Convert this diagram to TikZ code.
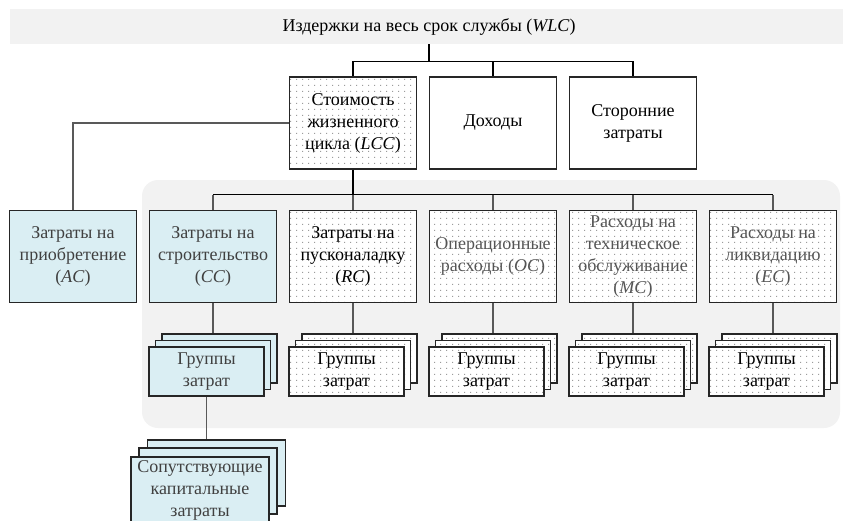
\documentclass[tikz,border=0pt]{standalone}
\usepackage{fontspec}
\setmainfont{Liberation Serif}
\usetikzlibrary{patterns}
\pgfdeclarepatternformonly{mydots}{\pgfqpoint{0pt}{0pt}}{\pgfqpoint{6pt}{6pt}}{\pgfqpoint{6pt}{6pt}}{\pgfpathrectangle{\pgfqpoint{2.5pt}{2.5pt}}{\pgfqpoint{1.2pt}{1.2pt}}\pgfusepath{fill}}
\definecolor{lblue}{HTML}{DAEEF3}
\definecolor{regc}{HTML}{F2F2F2}
\definecolor{bordc}{HTML}{262626}
\definecolor{tdark}{HTML}{404040}
\definecolor{tgray}{HTML}{555555}
\definecolor{dotc}{HTML}{9C9C9C}
\definecolor{gline}{HTML}{595959}
\newcommand\fsz{\fontsize{18}{22}\selectfont}
\tikzset{
  box/.style={draw=bordc, line width=1.2pt, minimum width=127pt, minimum height=92pt, align=center, inner sep=1pt, font=\fsz},
  bluebox/.style={box, fill=lblue, text=tdark},
  dotbox/.style={box, preaction={fill=white}, pattern=mydots, pattern color=dotc},
  whitebox/.style={box, fill=white},
  layer/.style={draw=bordc, line width=1.2pt, minimum width=115pt, minimum height=49pt, align=center, inner sep=1pt, font=\fsz},
  bluelayer/.style={layer, fill=lblue, text=tdark},
  dotlayer/.style={layer, preaction={fill=white}, pattern=mydots, pattern color=dotc},
  biglayer/.style={draw=bordc, line width=1.2pt, minimum width=138pt, minimum height=66pt, align=center, inner sep=1pt, font=\fsz, fill=lblue, text=tdark},
  conn/.style={draw=black, line width=1.3pt},
  thickconn/.style={draw=black, line width=2.4pt},
  gconn/.style={draw=gline, line width=1.1pt},
}
\begin{document}
\begin{tikzpicture}[x=1pt,y=-1pt]
\useasboundingbox (0,0) rectangle (843,520);
% background region
\node[fill=regc, rounded corners=16pt, minimum width=698pt, minimum height=248pt, inner sep=0pt] (region) at (491,304) {};
% banner
\node[fill=regc, minimum width=838pt, minimum height=35pt, inner sep=0pt, font=\fsz] (wlc) at (429,26.5) {Издержки на весь срок службы (\textit{WLC})};
% top row
\node[dotbox] (lcc) at (353,123) {Стоимость\\жизненного\\цикла (\textit{LCC})};
\node[whitebox] (inc) at (493,123) {Доходы};
\node[whitebox] (ext) at (633,123) {Сторонние\\затраты};
% lower row
\node[bluebox] (ac) at (73,256.5) {Затраты на\\приобретение\\(\textit{AC})};
\node[bluebox] (cc) at (213,256.5) {Затраты на\\строительство\\(\textit{CC})};
\node[dotbox] (rc) at (353,256.5) {Затраты на\\пусконаладку\\(\textit{RC})};
\node[dotbox, text=tgray] (oc) at (493,256.5) {Операционные\\расходы (\textit{OC})};
\node[dotbox, text=tgray] (mc) at (633,256.5) {Расходы на\\техническое\\обслуживание\\(\textit{MC})};
\node[dotbox, text=tgray] (ec) at (773,256.5) {Расходы на\\ликвидацию\\(\textit{EC})};
% stacks
\node[bluelayer] (gccb) at (219.5,358.5) {};
\node[bluelayer] (gccm) at (213,365) {};
\node[bluelayer] (gcc) at (206.5,371.5) {Группы\\затрат};
\node[dotlayer] (grcb) at (359.5,358.5) {};
\node[dotlayer] (grcm) at (353,365) {};
\node[dotlayer] (grc) at (346.5,371.5) {Группы\\затрат};
\node[dotlayer] (gocb) at (499.5,358.5) {};
\node[dotlayer] (gocm) at (493,365) {};
\node[dotlayer] (goc) at (486.5,371.5) {Группы\\затрат};
\node[dotlayer] (gmcb) at (639.5,358.5) {};
\node[dotlayer] (gmcm) at (633,365) {};
\node[dotlayer] (gmc) at (626.5,371.5) {Группы\\затрат};
\node[dotlayer] (gecb) at (779.5,358.5) {};
\node[dotlayer] (gecm) at (773,365) {};
\node[dotlayer] (gec) at (766.5,371.5) {Группы\\затрат};
\node[biglayer] (capb) at (216.5,473) {};
\node[biglayer] (capm) at (208,481) {};
\node[biglayer] (cap) at (200,490) {Сопутствующие\\капитальные\\затраты};
% connectors top
\draw[conn] (wlc.south) -- ++(0,17) coordinate (j1);
\draw[conn] (lcc.north) |- (j1) -| (ext.north);
\draw[conn] (inc.north) -- (inc.north |- j1);
\draw[gconn] (lcc.west) -| (ac.north);
\draw[thickconn] (lcc.south) -- ++(0,25) coordinate (j2);
\draw[conn] (cc.north |- j2) -- (ec.north |- j2);
\foreach \n in {cc,rc,oc,mc,ec} {\draw[gconn] (\n.north) -- (\n.north |- j2);}
\draw[gconn] (cc.south) -- (cc.south |- gccb.north);
\draw[gconn] (rc.south) -- (rc.south |- grcb.north);
\draw[gconn] (oc.south) -- (oc.south |- gocb.north);
\draw[gconn] (mc.south) -- (mc.south |- gmcb.north);
\draw[gconn] (ec.south) -- (ec.south |- gecb.north);
\draw[gconn] (gcc.south) -- (gcc.south |- capb.north);
\end{tikzpicture}
\end{document}
